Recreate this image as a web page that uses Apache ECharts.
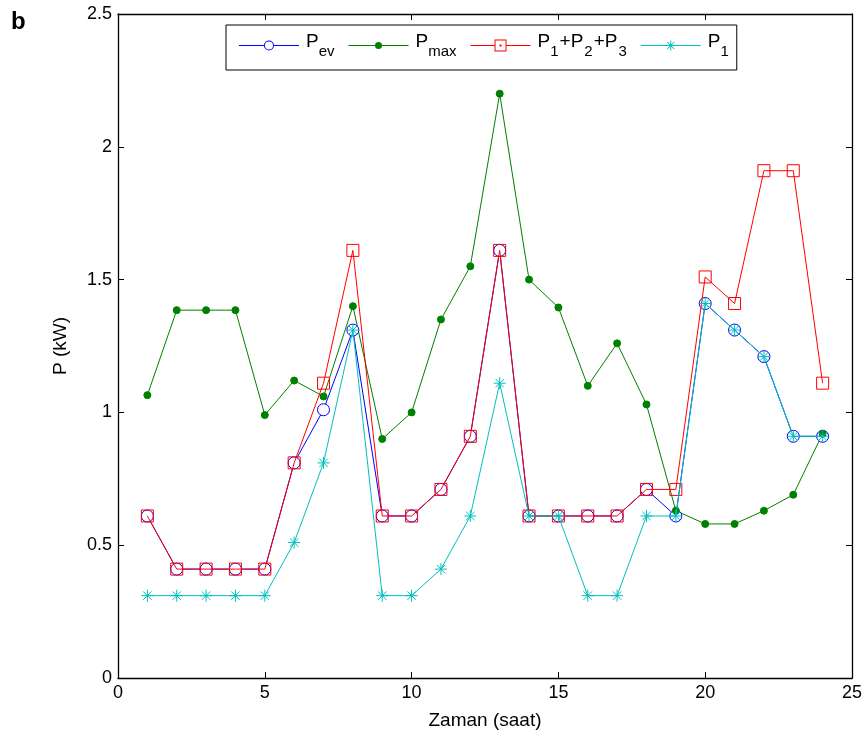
<!DOCTYPE html>
<html><head><meta charset="utf-8">
<script src="https://cdn.jsdelivr.net/npm/echarts@6/dist/echarts.min.js"></script>
<style>html,body{margin:0;padding:0;background:#fff}#c{width:866px;height:740px}</style>
</head><body><div id="c"></div>
<script>
const hours = [1,2,3,4,5,6,7,8,9,10,11,12,13,14,15,16,17,18,19,20,21,22,23,24];
const pEv   = [0.61,0.41,0.41,0.41,0.41,0.81,1.01,1.31,0.61,0.61,0.71,0.91,1.61,0.61,0.61,0.61,0.61,0.71,0.61,1.41,1.31,1.21,0.91,0.91];
const pMax  = [1.065,1.385,1.385,1.385,0.99,1.12,1.06,1.40,0.90,1.0,1.35,1.55,2.2,1.5,1.395,1.10,1.26,1.03,0.63,0.58,0.58,0.63,0.69,0.92];
const pSum  = [0.61,0.41,0.41,0.41,0.41,0.81,1.11,1.61,0.61,0.61,0.71,0.91,1.61,0.61,0.61,0.61,0.61,0.71,0.71,1.51,1.41,1.91,1.91,1.11];
const p1    = [0.31,0.31,0.31,0.31,0.31,0.51,0.81,1.31,0.31,0.31,0.41,0.61,1.11,0.61,0.61,0.31,0.31,0.61,0.61,1.41,1.31,1.21,0.91,0.91];
const xTicks = {min:0, max:25, interval:5};
const yTicks = {min:0, max:2.5, interval:0.5};
const names = ['Pev','Pmax','P1+P2+P3','P1'];
const legendLabels = {
  'Pev': '{f|P}{s|ev}',
  'Pmax': '{f|P}{s|max}',
  'P1+P2+P3': '{f|P}{s|1}{p|+P}{s|2}{p|+P}{s|3}',
  'P1': '{f|P}{s|1}'
};
const FONT = 'Liberation Sans';
const pair = arr => hours.map((h,i)=>[h,arr[i]]);
const asterisk = 'path://M0,-6L0,6M-6,0L6,0M-4.2,-4.2L4.2,4.2M-4.2,4.2L4.2,-4.2';
// legend icons drawn in a 60x12 box (line + marker), filled shapes
const EXT = 'M0,0L0,0ZM60,12L60,12Z';
const iconEv  = 'path://' + EXT + 'M0,5.5L25,5.5L25,6.5L0,6.5ZM35,5.5L60,5.5L60,6.5L35,6.5Z' +
                'M25,6A5,5 0 1 1 35,6A5,5 0 1 1 25,6ZM26,6A4,4 0 1 0 34,6A4,4 0 1 0 26,6Z';
const iconMax = 'path://' + EXT + 'M0,5.5L26.5,5.5L26.5,6.5L0,6.5ZM33.5,5.5L60,5.5L60,6.5L33.5,6.5Z' +
                'M26.5,6A3.5,3.5 0 1 1 33.5,6A3.5,3.5 0 1 1 26.5,6Z';
const iconSum = 'path://M0,5.5L24,5.5L24,6.5L0,6.5ZM36,5.5L60,5.5L60,6.5L36,6.5Z' +
                'M24,0L36,0L36,12L24,12ZM25,1L25,11L35,11L35,1ZM29,5L31,5L31,7L29,7Z';
const iconP1  = 'path://' + EXT + 'M0,5.5L60,5.5L60,6.5L0,6.5ZM29.5,1L30.5,1L30.5,11L29.5,11Z' +
                'M26.85,2.15L33.85,9.15L33.15,9.85L26.15,2.85ZM26.15,9.15L33.15,2.15L33.85,2.85L26.85,9.85Z';

const chart = echarts.init(document.getElementById('c'), null, {renderer:'canvas'});
const axisCommon = {
  axisLine:{show:true, onZero:false, lineStyle:{color:'#000', width:1.3}},
  axisTick:{show:true, inside:true, length:6, lineStyle:{color:'#000'}},
  splitLine:{show:false}
};
chart.setOption({
  animation:false,
  backgroundColor:'#fff',
  textStyle:{fontFamily:FONT},
  grid:{left:118, right:14, top:14, bottom:62, containLabel:false},
  graphic:[{type:'text', left:11, top:10, style:{text:'b', font:'bold 24px '+FONT, fill:'#000'}}],
  legend:{
    data:[
      {name:'Pev', icon:iconEv, itemStyle:{color:'#0000ff', borderWidth:0}},
      {name:'Pmax', icon:iconMax, itemStyle:{color:'#008000', borderWidth:0}},
      {name:'P1+P2+P3', icon:iconSum, itemStyle:{color:'#ff0000', borderWidth:0}},
      {name:'P1', icon:iconP1, itemStyle:{color:'#00bfbf', borderWidth:0}}
    ],
    left:226, top:25, orient:'horizontal',
    backgroundColor:'#fff', borderColor:'#000', borderWidth:1,
    padding:[7,8,11,13], itemGap:14, itemWidth:60, itemHeight:12,
    formatter: n => legendLabels[n],
    textStyle:{color:'#000', rich:{
      f:{fontSize:19, fontFamily:FONT, color:'#000', lineHeight:22, padding:[0,0,8,2]},
      p:{fontSize:19, fontFamily:FONT, color:'#000', lineHeight:22, padding:[0,1,8,1]},
      s:{fontSize:15, fontFamily:FONT, color:'#000', lineHeight:14, padding:[12,0,0,0]}
    }}
  },
  xAxis:[
    Object.assign({type:'value', position:'bottom', ...xTicks,
      name:'Zaman (saat)', nameLocation:'middle', nameGap:33,
      nameTextStyle:{fontSize:19, color:'#000', fontFamily:FONT},
      axisLabel:{fontSize:18, color:'#000', margin:6, fontFamily:FONT}}, axisCommon),
    Object.assign({type:'value', position:'top', ...xTicks, axisLabel:{show:false}}, axisCommon)
  ],
  yAxis:[
    Object.assign({type:'value', position:'left', ...yTicks,
      name:'P (kW)', nameLocation:'middle', nameGap:48,
      nameTextStyle:{fontSize:19, color:'#000', fontFamily:FONT},
      axisLabel:{fontSize:18, color:'#000', margin:6, fontFamily:FONT}}, axisCommon),
    Object.assign({type:'value', position:'right', ...yTicks, axisLabel:{show:false}}, axisCommon)
  ],
  series:[
    {name:'Pev', type:'line', data:pair(pEv), symbol:'circle', symbolSize:12,
      lineStyle:{color:'#0000ff', width:1}, itemStyle:{color:'#fff', borderColor:'#0000ff', borderWidth:1}, z:2},
    {name:'Pmax', type:'line', data:pair(pMax), symbol:'circle', symbolSize:7,
      lineStyle:{color:'#008000', width:1}, itemStyle:{color:'#008000', borderColor:'#008000', borderWidth:1}, z:2},
    {name:'P1+P2+P3', type:'line', data:pair(pSum), symbol:'rect', symbolSize:12,
      lineStyle:{color:'#ff0000', width:1}, itemStyle:{color:'transparent', borderColor:'#ff0000', borderWidth:1}, z:3},
    {name:'P1', type:'line', data:pair(p1), symbol:asterisk, symbolSize:12,
      lineStyle:{color:'#00bfbf', width:1}, itemStyle:{color:'transparent', borderColor:'#00bfbf', borderWidth:1}, z:4}
  ]
});
</script></body></html>
